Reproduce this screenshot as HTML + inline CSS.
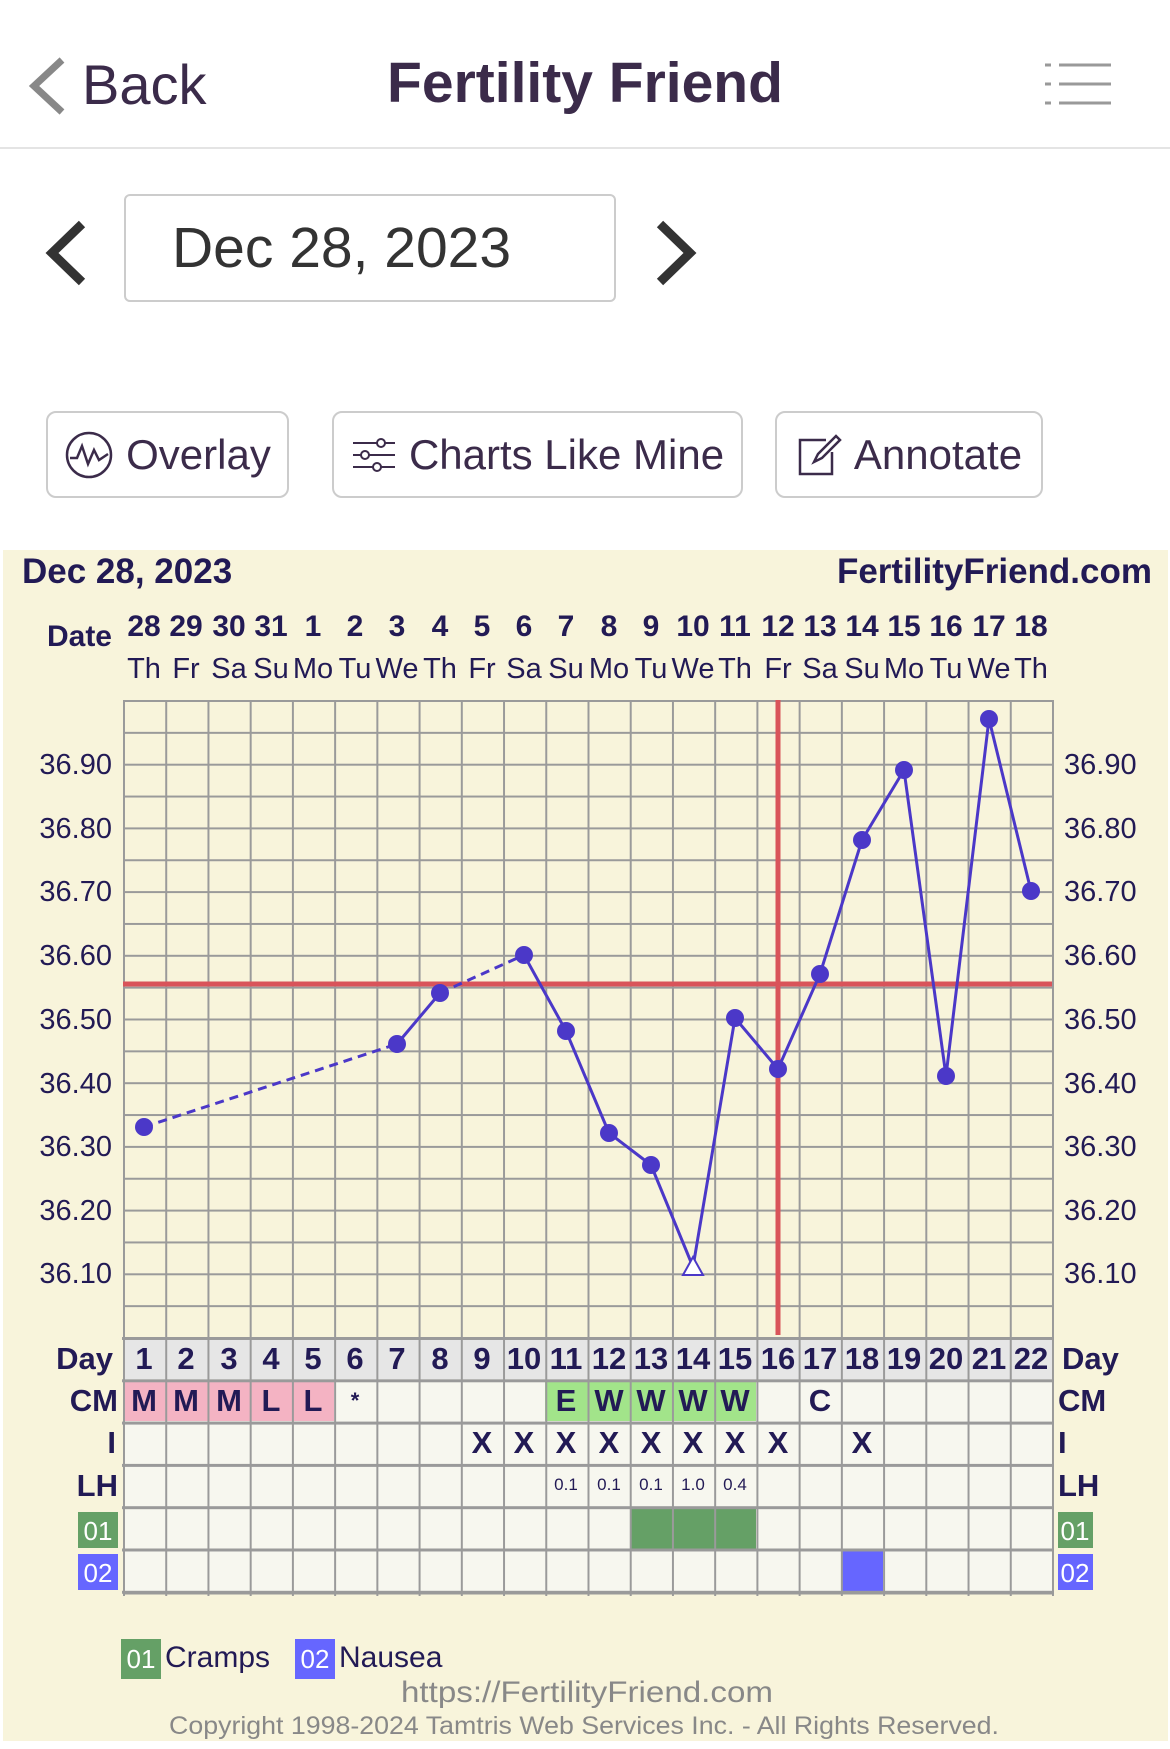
<!DOCTYPE html>
<html><head><meta charset="utf-8"><style>
body{margin:0;width:1170px;height:1749px;background:#fff;position:relative;overflow:hidden;font-family:"Liberation Sans",sans-serif;}
.a{position:absolute}
.btn{position:absolute;top:411px;height:87px;border:2px solid #ccc;border-radius:10px;box-sizing:border-box;font-size:42px;color:#3b2b4a;display:flex;align-items:center;justify-content:center;gap:12px}
</style></head><body>
<svg class="a" style="left:24px;top:56px" width="46" height="60"><polyline points="38,4 10,30 38,56" fill="none" stroke="#888" stroke-width="7"/></svg>
<div class="a" style="left:82px;top:52px;font-size:56px;color:#3b2b4a;">Back</div>
<div class="a" style="left:0;width:1170px;top:50px;text-align:center;font-size:57px;font-weight:bold;color:#3b2b4a;">Fertility Friend</div>
<svg class="a" style="left:1045px;top:62px" width="70" height="44"><g stroke="#999" stroke-width="3"><line x1="0" y1="3" x2="6" y2="3"/><line x1="14" y1="3" x2="66" y2="3"/><line x1="0" y1="22" x2="6" y2="22"/><line x1="14" y1="22" x2="66" y2="22"/><line x1="0" y1="41" x2="6" y2="41"/><line x1="14" y1="41" x2="66" y2="41"/></g></svg>
<div class="a" style="left:0;top:147px;width:1170px;height:2px;background:#e4e4e4"></div>
<svg class="a" style="left:42px;top:218px" width="52" height="70"><polyline points="40,6 10,35 40,64" fill="none" stroke="#333" stroke-width="9"/></svg>
<svg class="a" style="left:650px;top:218px" width="52" height="70"><polyline points="10,6 40,35 10,64" fill="none" stroke="#333" stroke-width="9"/></svg>
<div class="a" style="left:124px;top:194px;width:492px;height:108px;border:2px solid #ccc;border-radius:6px;box-sizing:border-box;font-size:57px;color:#333;line-height:104px;padding-left:46px;">Dec 28, 2023</div>
<div class="btn" style="left:46px;width:243px;"><svg width="50" height="50"><circle cx="25" cy="25" r="22" fill="none" stroke="#3b2b4a" stroke-width="2.5"/><polyline points="6,28 13,28 18,16 24,34 30,20 35,30 44,24" fill="none" stroke="#3b2b4a" stroke-width="2.5"/></svg>Overlay</div>
<div class="btn" style="left:332px;width:411px;"><svg width="46" height="36"><g stroke="#3b2b4a" stroke-width="2" fill="none"><line x1="2" y1="6" x2="44" y2="6"/><line x1="2" y1="18" x2="44" y2="18"/><line x1="2" y1="30" x2="44" y2="30"/><circle cx="30" cy="6" r="4" fill="#fff"/><circle cx="14" cy="18" r="4" fill="#fff"/><circle cx="26" cy="30" r="4" fill="#fff"/></g></svg>Charts Like Mine</div>
<div class="btn" style="left:775px;width:268px;"><svg width="46" height="46"><g stroke="#3b2b4a" stroke-width="2.5" fill="none"><path d="M30 8 H4 V42 H36 V20"/><path d="M18 30 L22 22 L40 4 L44 8 L26 26 Z"/></g></svg>Annotate</div>

<svg class="a" style="left:0;top:0" width="1170" height="1749" font-family="'Liberation Sans Narrow','Liberation Sans',sans-serif">
<defs>
<pattern id="vg" x="123" y="0" width="42.227" height="10" patternUnits="userSpaceOnUse"><line x1="1" y1="0" x2="1" y2="10" stroke="#9a9a9a" stroke-width="2"/></pattern>
<pattern id="hg" x="0" y="700" width="10" height="31.85" patternUnits="userSpaceOnUse"><line x1="0" y1="1" x2="10" y2="1" stroke="#9a9a9a" stroke-width="2"/></pattern>
<pattern id="hr" x="0" y="1337" width="10" height="42.3" patternUnits="userSpaceOnUse"><line x1="0" y1="1.5" x2="10" y2="1.5" stroke="#9a9a9a" stroke-width="3"/></pattern>
</defs>
<rect x="3" y="550" width="1165" height="1191" fill="#f8f4db"/>
<text x="22" y="583" font-size="35" font-weight="bold" fill="#221a55">Dec 28, 2023</text>
<text x="1152" y="583" font-size="35" font-weight="bold" fill="#221a55" text-anchor="end">FertilityFriend.com</text>
<text x="112" y="646" font-size="30" font-weight="bold" fill="#221a55" text-anchor="end">Date</text>
<g font-size="30" font-weight="bold" fill="#221a55" text-anchor="middle">
<text x="144" y="636">28</text><text x="186" y="636">29</text><text x="229" y="636">30</text><text x="271" y="636">31</text><text x="313" y="636">1</text><text x="355" y="636">2</text><text x="397" y="636">3</text><text x="440" y="636">4</text><text x="482" y="636">5</text><text x="524" y="636">6</text><text x="566" y="636">7</text><text x="609" y="636">8</text><text x="651" y="636">9</text><text x="693" y="636">10</text><text x="735" y="636">11</text><text x="778" y="636">12</text><text x="820" y="636">13</text><text x="862" y="636">14</text><text x="904" y="636">15</text><text x="946" y="636">16</text><text x="989" y="636">17</text><text x="1031" y="636">18</text>
</g>
<g font-size="29" fill="#221a55" text-anchor="middle">
<text x="144" y="678">Th</text><text x="186" y="678">Fr</text><text x="229" y="678">Sa</text><text x="271" y="678">Su</text><text x="313" y="678">Mo</text><text x="355" y="678">Tu</text><text x="397" y="678">We</text><text x="440" y="678">Th</text><text x="482" y="678">Fr</text><text x="524" y="678">Sa</text><text x="566" y="678">Su</text><text x="609" y="678">Mo</text><text x="651" y="678">Tu</text><text x="693" y="678">We</text><text x="735" y="678">Th</text><text x="778" y="678">Fr</text><text x="820" y="678">Sa</text><text x="862" y="678">Su</text><text x="904" y="678">Mo</text><text x="946" y="678">Tu</text><text x="989" y="678">We</text><text x="1031" y="678">Th</text>
</g>
<rect x="123" y="700" width="930" height="638" fill="url(#hg)"/>
<rect x="123" y="1337" width="929" height="42" fill="#e6e6e6"/>
<rect x="123" y="1379" width="929" height="214" fill="#f7f7ef"/>
<rect x="123" y="1380" width="211" height="41" fill="#f4b3c3"/>
<rect x="545" y="1380" width="211" height="41" fill="#a2e48a"/>
<rect x="630" y="1509" width="126" height="41" fill="#65a066"/>
<rect x="841" y="1551" width="42" height="41" fill="#6666ff"/>
<rect x="122" y="1337" width="932" height="258" fill="url(#hr)"/>
<rect x="122" y="700" width="932" height="896" fill="url(#vg)"/>
<line x1="123" y1="1593" x2="1053" y2="1593" stroke="#9a9a9a" stroke-width="3"/>
<g font-size="29" fill="#221a55">
<g text-anchor="end"><text x="112" y="774">36.90</text><text x="112" y="838">36.80</text><text x="112" y="901">36.70</text><text x="112" y="965">36.60</text><text x="112" y="1029">36.50</text><text x="112" y="1093">36.40</text><text x="112" y="1156">36.30</text><text x="112" y="1220">36.20</text><text x="112" y="1283">36.10</text></g>
<text x="1064" y="774">36.90</text><text x="1064" y="838">36.80</text><text x="1064" y="901">36.70</text><text x="1064" y="965">36.60</text><text x="1064" y="1029">36.50</text><text x="1064" y="1093">36.40</text><text x="1064" y="1156">36.30</text><text x="1064" y="1220">36.20</text><text x="1064" y="1283">36.10</text>
</g>
<line x1="123" y1="984" x2="1052" y2="984" stroke="#d9545a" stroke-width="5"/>
<line x1="778" y1="700" x2="778" y2="1335" stroke="#d9545a" stroke-width="5"/>
<g stroke="#4b38c8" stroke-width="3" fill="none">
<polyline points="144,1127 397,1044" stroke-dasharray="9,6"/>
<polyline points="397,1044 440,993"/>
<polyline points="440,993 524,955" stroke-dasharray="9,6"/>
<polyline points="524,955 566,1031 609,1133 651,1165 693,1267 735,1018 778,1069 820,974 862,840 904,770 946,1076 989,719 1031,891"/>
</g>
<g fill="#4b38c8">
<circle cx="144" cy="1127" r="9"/><circle cx="397" cy="1044" r="9"/><circle cx="440" cy="993" r="9"/><circle cx="524" cy="955" r="9"/><circle cx="566" cy="1031" r="9"/><circle cx="609" cy="1133" r="9"/><circle cx="651" cy="1165" r="9"/><circle cx="735" cy="1018" r="9"/><circle cx="778" cy="1069" r="9"/><circle cx="820" cy="974" r="9"/><circle cx="862" cy="840" r="9"/><circle cx="904" cy="770" r="9"/><circle cx="946" cy="1076" r="9"/><circle cx="989" cy="719" r="9"/><circle cx="1031" cy="891" r="9"/>
</g>
<polygon points="693,1257 683,1275 703,1275" fill="#fff" stroke="#4b38c8" stroke-width="2"/>
<g font-size="31" font-weight="bold" fill="#221a55">
<g text-anchor="end"><text x="113" y="1369">Day</text><text x="118" y="1411">CM</text><text x="116" y="1453">I</text><text x="118" y="1496">LH</text></g>
<text x="1062" y="1369">Day</text><text x="1058" y="1411">CM</text><text x="1058" y="1453">I</text><text x="1058" y="1496">LH</text>
</g>
<rect x="78" y="1512" width="40" height="36" fill="#65a066"/><text x="98" y="1540" font-size="26" fill="#fff" text-anchor="middle">01</text>
<rect x="78" y="1554" width="40" height="36" fill="#6666ff"/><text x="98" y="1582" font-size="26" fill="#fff" text-anchor="middle">02</text>
<rect x="1058" y="1512" width="35" height="36" fill="#65a066"/><text x="1075" y="1540" font-size="26" fill="#fff" text-anchor="middle">01</text>
<rect x="1058" y="1554" width="35" height="36" fill="#6666ff"/><text x="1075" y="1582" font-size="26" fill="#fff" text-anchor="middle">02</text>
<g font-size="31" font-weight="bold" fill="#221a55" text-anchor="middle">
<text x="144" y="1369">1</text><text x="186" y="1369">2</text><text x="229" y="1369">3</text><text x="271" y="1369">4</text><text x="313" y="1369">5</text><text x="355" y="1369">6</text><text x="397" y="1369">7</text><text x="440" y="1369">8</text><text x="482" y="1369">9</text><text x="524" y="1369">10</text><text x="566" y="1369">11</text><text x="609" y="1369">12</text><text x="651" y="1369">13</text><text x="693" y="1369">14</text><text x="735" y="1369">15</text><text x="778" y="1369">16</text><text x="820" y="1369">17</text><text x="862" y="1369">18</text><text x="904" y="1369">19</text><text x="946" y="1369">20</text><text x="989" y="1369">21</text><text x="1031" y="1369">22</text>
<text x="144" y="1411">M</text><text x="186" y="1411">M</text><text x="229" y="1411">M</text><text x="271" y="1411">L</text><text x="313" y="1411">L</text><text x="355" y="1408" font-size="22">*</text><text x="566" y="1411">E</text><text x="609" y="1411">W</text><text x="651" y="1411">W</text><text x="693" y="1411">W</text><text x="735" y="1411">W</text><text x="820" y="1411">C</text>
<text x="482" y="1453">X</text><text x="524" y="1453">X</text><text x="566" y="1453">X</text><text x="609" y="1453">X</text><text x="651" y="1453">X</text><text x="693" y="1453">X</text><text x="735" y="1453">X</text><text x="778" y="1453">X</text><text x="862" y="1453">X</text>
</g>
<g font-size="17" fill="#221a55" text-anchor="middle">
<text x="566" y="1490">0.1</text><text x="609" y="1490">0.1</text><text x="651" y="1490">0.1</text><text x="693" y="1490">1.0</text><text x="735" y="1490">0.4</text>
</g>
<rect x="121" y="1639" width="40" height="40" fill="#65a066"/><text x="141" y="1668" font-size="26" fill="#fff" text-anchor="middle">01</text>
<text x="165" y="1667" font-size="30" fill="#221a55">Cramps</text>
<rect x="295" y="1639" width="40" height="40" fill="#6666ff"/><text x="315" y="1668" font-size="26" fill="#fff" text-anchor="middle">02</text>
<text x="339" y="1667" font-size="30" fill="#221a55">Nausea</text>
<text x="401" y="1702" font-size="30" fill="#888" textLength="372" lengthAdjust="spacingAndGlyphs">https://FertilityFriend.com</text>
<text x="169" y="1734" font-size="25" fill="#888" textLength="830" lengthAdjust="spacingAndGlyphs">Copyright 1998-2024 Tamtris Web Services Inc. - All Rights Reserved.</text>
</svg>
</body></html>
